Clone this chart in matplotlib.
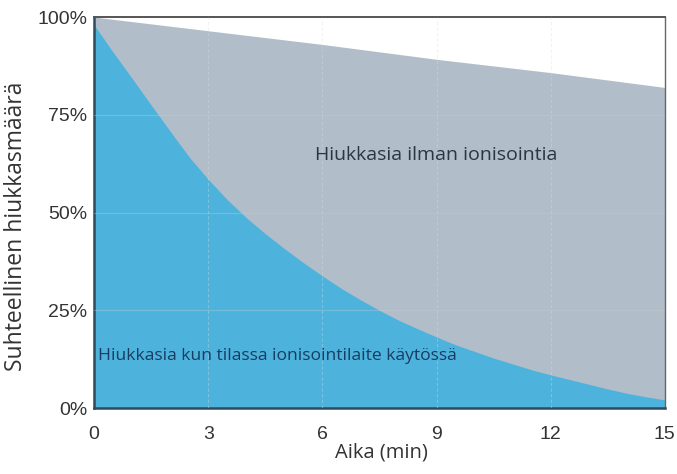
import numpy as np
import matplotlib.pyplot as plt

# values (percent of initial particle count)
time_min = [0, 0.5, 1, 1.5, 2, 2.5, 3, 3.5, 4, 4.5, 5, 5.5, 6, 6.5, 7, 7.5,
            8, 8.5, 9, 9.5, 10, 10.5, 11, 11.5, 12, 12.5, 13, 13.5, 14, 14.5, 15]
with_ionizer = [98, 91, 84.3, 77.5, 70.8, 64.2, 58.5, 53.3, 48.7, 44.6, 40.8,
                37.2, 33.8, 30.6, 27.7, 25, 22.5, 20.3, 18.2, 16.2, 14.5, 12.8,
                11.3, 9.8, 8.5, 7.3, 6.1, 4.9, 3.8, 2.9, 2.1]

time_plain = [0, 3, 6, 9, 12, 15]
without_ionizer = [100, 96.5, 93, 89.2, 85.8, 82]

x_ticks = [0, 3, 6, 9, 12, 15]
y_ticks = [0, 25, 50, 75, 100]
y_labels = ["0%", "25%", "50%", "75%", "100%"]

fig = plt.figure(figsize=(6.77, 4.74), dpi=100)
ax = fig.add_axes([0.139, 0.139, 0.843, 0.825])

ax.fill_between(time_plain, 0, without_ionizer, color="#b1bdc9", lw=0, zorder=1)
ax.fill_between(time_min, 0, with_ionizer, color="#4db3dc", lw=0, zorder=2)

ax.set_xlim(0, 15)
ax.set_ylim(0, 100)
ax.set_xticks(x_ticks)
ax.set_yticks(y_ticks)
ax.set_yticklabels(y_labels)
ax.tick_params(length=0, labelsize=14, labelcolor="#333333")
ax.tick_params(axis="x", pad=13)
ax.tick_params(axis="y", pad=5)
for lbl in ax.get_xticklabels() + ax.get_yticklabels():
    lbl.set_family("Liberation Sans")

# faint grid on top of the fills
for xv in x_ticks[1:-1]:
    ax.axvline(xv, color="#d8dde3", lw=0.8, ls=(0, (3, 2)), alpha=0.35, zorder=3)
for yv in y_ticks[1:-1]:
    ax.axhline(yv, color="#c5cdd6", lw=0.8, alpha=0.35, zorder=3)

for side in ["left", "bottom"]:
    ax.spines[side].set_color("#2f4b5e")
    ax.spines[side].set_linewidth(1.8)
ax.spines["top"].set_color("#555555")
ax.spines["top"].set_linewidth(1.4)
ax.spines["right"].set_color("#666666")
ax.spines["right"].set_linewidth(1.0)

ax.set_ylabel("Suhteellinen hiukkasmäärä", fontsize=16.5, color="#333333",
              family="Open Sans")
ax.yaxis.set_label_coords(-0.116, 0.465)
ax.set_xlabel("Aika (min)", fontsize=14.5, color="#333333", family="Open Sans")
ax.xaxis.set_label_coords(0.504, -0.113)
ax.xaxis.label.set_va("center")

ax.text(8.98, 64.7, "Hiukkasia ilman ionisointia", fontsize=14, color="#2b3645",
        family="Open Sans", ha="center", va="center", zorder=4)
ax.text(0.1, 13.2, "Hiukkasia kun tilassa ionisointilaite käytössä", fontsize=12.6,
        color="#173d63", family="Open Sans", ha="left", va="center", zorder=4)

fig.savefig("out.png", dpi=100, facecolor="white")
